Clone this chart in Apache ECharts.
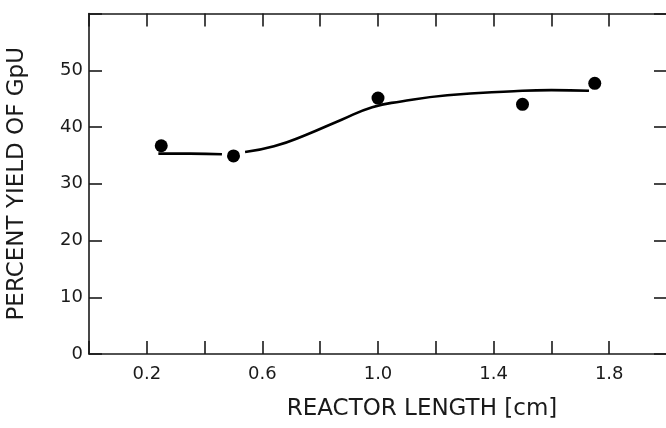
<!DOCTYPE html>
<html>
<head>
<meta charset="utf-8">
<script src="https://cdn.jsdelivr.net/npm/echarts@6/dist/echarts.min.js"></script>
<style>
html,body{margin:0;padding:0;background:#fff;}
#c{width:666px;height:428px;}
</style>
</head>
<body>
<div id="c"></div>
<script>
// Measured points
var pointX = [0.25, 0.5, 1.0, 1.5, 1.75];
var pointY = [36.7, 34.9, 45.1, 44.0, 47.7];
// Hand-drawn fitted curve (two segments, broken around the point at 0.5)
var curveX = [0.24, 0.35, 0.46, 0.5, 0.54, 0.64, 0.75, 0.87, 0.98, 1.08, 1.24, 1.47, 1.6, 1.73];
var curveY = [35.3, 35.3, 35.2, null, 35.6, 36.6, 38.6, 41.2, 43.5, 44.5, 45.6, 46.3, 46.5, 46.4];
// Axis labels
var xTickLabels = ['0.2', '0.6', '1.0', '1.4', '1.8'];
var yTickLabels = ['0', '10', '20', '30', '40', '50'];

var font = 'DejaVu Sans';
var ink = '#1a1a1a';

var scatterData = pointX.map(function (x, i) { return [x, pointY[i]]; });
var curveData = curveX.map(function (x, i) { return [x, curveY[i] === null ? '-' : curveY[i]]; });

function fmtX(v) {
  var s = v.toFixed(1);
  return xTickLabels.indexOf(s) >= 0 ? s : '';
}
function fmtY(v) {
  var s = String(Math.round(v));
  return yTickLabels.indexOf(s) >= 0 ? s : '';
}

var axisLine = { show: true, onZero: false, lineStyle: { color: ink, width: 1.6 } };
var tick = { show: true, inside: true, length: 13, lineStyle: { color: ink, width: 1.6 } };

var chart = echarts.init(document.getElementById('c'));
chart.setOption({
  animation: false,
  backgroundColor: '#fff',
  grid: { left: 89, top: 13.5, width: 578, height: 340.5, containLabel: false, outerBoundsMode: 'none' },
  xAxis: [{
    type: 'value', position: 'bottom', min: 0, max: 2.0, interval: 0.2,
    axisLine: axisLine, axisTick: tick, splitLine: { show: false },
    axisLabel: { formatter: fmtX, margin: 11, color: ink, fontFamily: font, fontSize: 18 },
    name: 'REACTOR LENGTH [cm]', nameLocation: 'middle', nameGap: 44,
    nameTextStyle: { color: ink, fontFamily: font, fontSize: 23, padding: [0, 0, 0, 88] }
  }, {
    type: 'value', position: 'top', min: 0, max: 2.0, interval: 0.2,
    axisLine: axisLine, axisTick: tick, splitLine: { show: false },
    axisLabel: { show: false }
  }],
  yAxis: [{
    type: 'value', position: 'left', min: 0, max: 60, interval: 10,
    axisLine: axisLine, axisTick: tick, splitLine: { show: false },
    axisLabel: { formatter: fmtY, margin: 6, color: ink, fontFamily: font, fontSize: 18 },
    name: 'PERCENT YIELD OF GpU', nameLocation: 'middle', nameGap: 60,
    nameTextStyle: { color: ink, fontFamily: font, fontSize: 23 }
  }, {
    type: 'value', position: 'right', min: 0, max: 60, interval: 10,
    axisLine: axisLine, axisTick: tick, splitLine: { show: false },
    axisLabel: { show: false }
  }],
  series: [{
    type: 'line', data: curveData, smooth: 0.5,
    connectNulls: false, showSymbol: false, symbol: 'none',
    lineStyle: { color: '#000', width: 2.6 }, z: 2
  }, {
    type: 'scatter', data: scatterData, symbol: 'circle', symbolSize: 13,
    itemStyle: { color: '#000', opacity: 1 }, z: 3
  }]
});
</script>
</body>
</html>
